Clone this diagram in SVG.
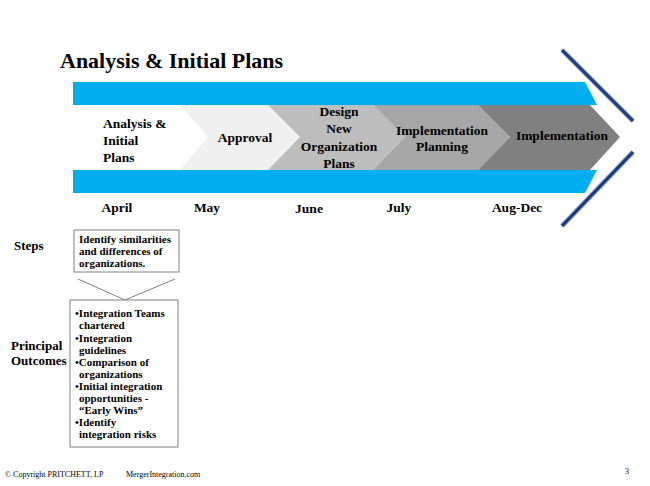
<svg xmlns="http://www.w3.org/2000/svg" width="650" height="486" viewBox="0 0 650 486">
<style>
text{font-family:"Liberation Serif",serif;font-weight:bold;fill:#000}
.c{font-size:13.5px;text-anchor:middle}
.m{font-size:13.5px;text-anchor:middle}
.b{font-size:11px}
.n{font-weight:normal;font-size:8px}
.box{fill:#fff;stroke:#808080;stroke-width:1}
</style>
<rect width="650" height="486" fill="#fff"/>
<text x="60" y="68" font-size="22">Analysis &amp; Initial Plans</text>
<g id="timeline">
<polygon points="73,82 585,82 597,105 73,105" fill="#00aeef"/>
<polygon points="73,170 597,170 585,193 73,193" fill="#00aeef"/>
<polygon points="73,105 180,105 208,137 180,170 73,170" fill="#ffffff"/>
<polygon points="180,105 268,105 300,137 268,170 180,170 208,137" fill="#f0f0f0"/>
<polygon points="268,105 373,105 405,137 373,170 268,170 300,137" fill="#bdbdbd"/>
<polygon points="373,105 478,105 510,137 478,170 373,170 405,137" fill="#a6a6a6"/>
<polygon points="478,105 590,105 620,137 590,170 478,170 510,137" fill="#808080"/>
</g>
<g id="labels">
<text x="103" y="128" font-size="13.5">Analysis &amp;</text>
<text x="103" y="145" font-size="13.5">Initial</text>
<text x="103" y="162" font-size="13.5">Plans</text>
<text x="245" y="142" class="c">Approval</text>
<text x="339" y="116" class="c">Design</text>
<text x="339" y="133" class="c">New</text>
<text x="339" y="151" class="c">Organization</text>
<text x="339" y="168" class="c">Plans</text>
<text x="442" y="135" class="c">Implementation</text>
<text x="442" y="151" class="c">Planning</text>
<text x="562" y="140" class="c">Implementation</text>
<text x="117" y="212" class="m">April</text>
<text x="207" y="212" class="m">May</text>
<text x="309" y="213" class="m">June</text>
<text x="399" y="212" class="m">July</text>
<text x="517" y="212" class="m">Aug-Dec</text>
</g>
<g id="brackets">
<line x1="562" y1="50" x2="633" y2="121" stroke="#8fa8d0" stroke-width="5"/>
<line x1="562" y1="50" x2="633" y2="121" stroke="#1f3a78" stroke-width="3"/>
<line x1="633" y1="152" x2="562" y2="226" stroke="#8fa8d0" stroke-width="5"/>
<line x1="633" y1="152" x2="562" y2="226" stroke="#1f3a78" stroke-width="3"/>
</g>
<text x="14" y="250" font-size="13">Steps</text>
<text x="11" y="350" font-size="13">Principal</text>
<text x="11" y="365" font-size="13">Outcomes</text>
<g id="steps">
<rect class="box" x="74" y="230" width="105" height="42"/>
<text x="79" y="243" class="b">Identify similarities</text>
<text x="79" y="255" class="b">and differences of</text>
<text x="79" y="267" class="b">organizations.</text>
</g>
<g id="connectors" stroke="#808080" stroke-width="1">
<line x1="78" y1="279" x2="125" y2="300"/>
<line x1="175" y1="279" x2="125" y2="300"/>
</g>
<g id="outcomes">
<rect class="box" x="70" y="300" width="108" height="147"/>
<text x="75" y="317" class="b">•Integration Teams</text>
<text x="79" y="329" class="b">chartered</text>
<text x="75" y="342" class="b">•Integration</text>
<text x="79" y="354" class="b">guidelines</text>
<text x="75" y="366" class="b">•Comparison of</text>
<text x="79" y="378" class="b">organizations</text>
<text x="75" y="390" class="b">•Initial integration</text>
<text x="79" y="402" class="b">opportunities -</text>
<text x="79" y="414" class="b">“Early Wins”</text>
<text x="75" y="426" class="b">•Identify</text>
<text x="79" y="438" class="b">integration risks</text>
</g>
<text x="5" y="477" class="n">© Copyright PRITCHETT, LP</text>
<text x="126" y="477" class="n">MergerIntegration.com</text>
<text x="625" y="474" class="n">3</text>
</svg>
